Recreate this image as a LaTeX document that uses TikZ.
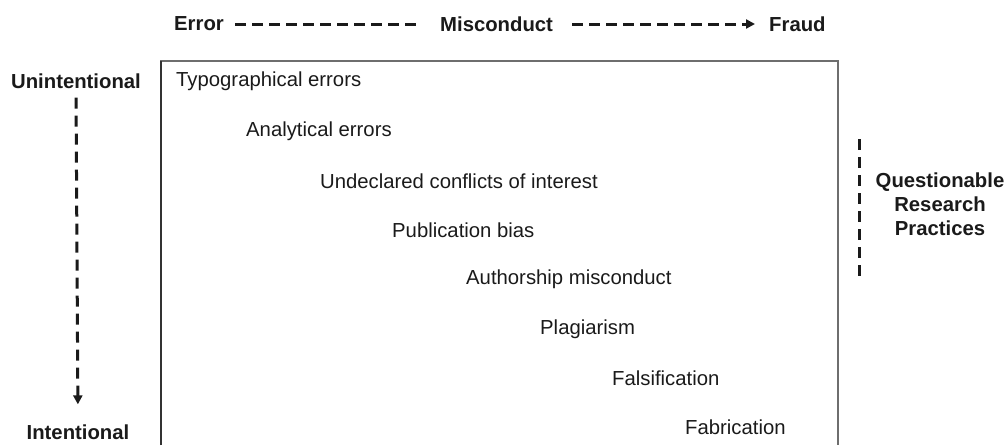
\documentclass[tikz,border=0pt]{standalone}
\usepackage{fontspec}
\setmainfont{Liberation Sans}
\usetikzlibrary{arrows.meta}
\definecolor{txt}{HTML}{1A1A1A}
\definecolor{boxgray}{HTML}{6E6E6E}
\definecolor{boxdark}{HTML}{333333}
\tikzset{
  item/.style={anchor=west, inner sep=0pt, text=txt, font=\fontsize{20.3}{24}\selectfont},
  lbl/.style={inner sep=0pt, text=txt, font=\fontsize{20.3}{24}\selectfont\bfseries},
  dashline/.style={draw=txt, line width=3pt, dash pattern=on 11pt off 6pt},
  vdash/.style={draw=txt, line width=3pt, dash pattern=on 11pt off 7pt},
  tip/.style={-{Triangle[length=9pt,width=9pt]}}
}
\begin{document}
\begin{tikzpicture}[x=1pt,y=-1pt]
\useasboundingbox (0,0) rectangle (1007,445);
% box (open at bottom)
\draw[boxgray, line width=2pt] (161,445) -- (161,61) -- (838,61) -- (838,445);
\draw[boxdark, line width=2pt] (161,445) -- (161,61);
% title row
\node[lbl, anchor=west] (err) at (174,24) {Error};
\node[lbl, anchor=west] (mis) at (440,24) {Misconduct};
\node[lbl, anchor=west] (fra) at (769,24) {Fraud};
\draw[dashline, shorten <=11pt, shorten >=22pt] (err.east) -- (mis.west);
\draw[dashline, tip, shorten <=19pt, shorten >=14pt] (mis.east) -- (fra.west);
% left axis
\node[lbl] (unint) at (76,81) {Unintentional};
\node[lbl] (int) at (78,432) {Intentional};
\draw[vdash, tip, shorten <=9pt, shorten >=20pt] (unint.south) -- (int.north);
% right bracket
\node[lbl, align=center] (qrp) at (940,204) {Questionable\\Research\\Practices};
\coordinate (qtop) at (859,139);
\coordinate (qbot) at (859,276);
\draw[vdash] (qtop) -- (qbot);
% items
\node[item] (i1) at (176,81) {Typographical errors};
\node[item] (i2) at (246,131) {Analytical errors};
\node[item] (i3) at (320,181) {Undeclared conflicts of interest};
\node[item] (i4) at (392,230) {Publication bias};
\node[item] (i5) at (466,279) {Authorship misconduct};
\node[item] (i6) at (540,329) {Plagiarism};
\node[item] (i7) at (612,378) {Falsification};
\node[item] (i8) at (685,427) {Fabrication};
\end{tikzpicture}
\end{document}
